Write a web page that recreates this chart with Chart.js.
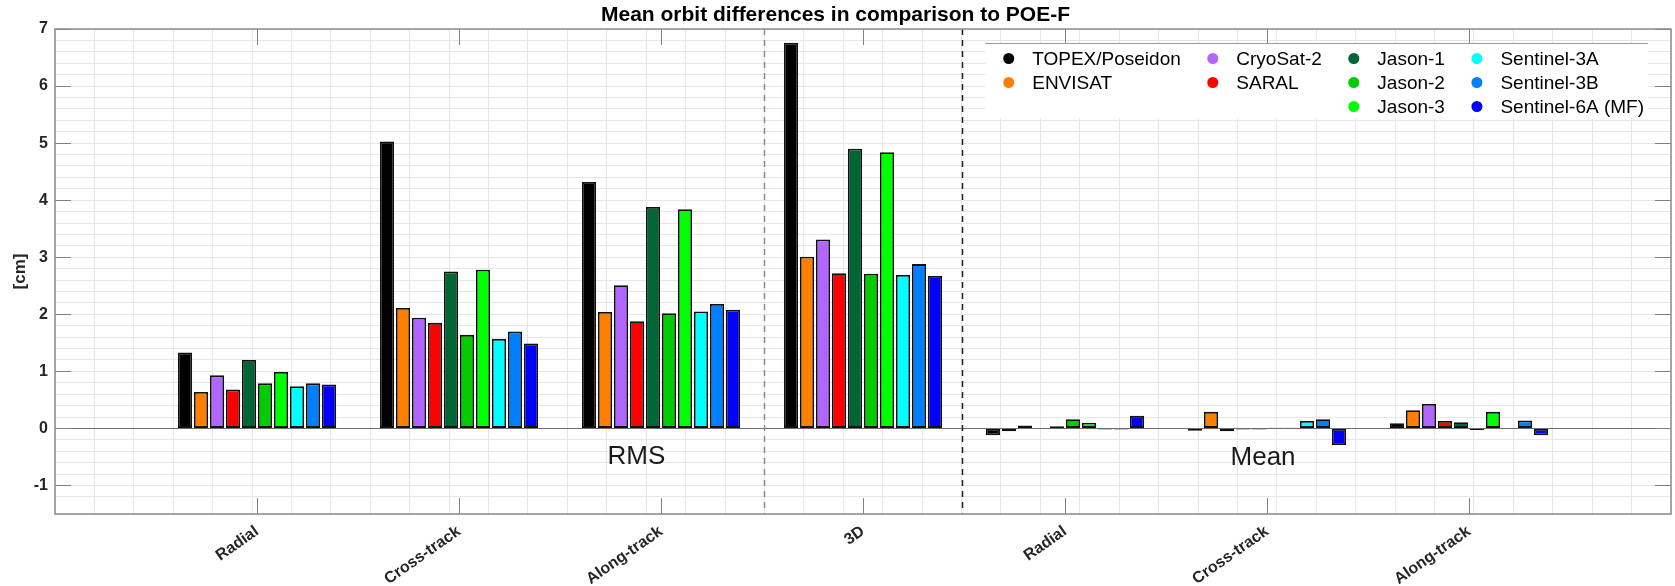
<!DOCTYPE html>
<html>
<head>
<meta charset="utf-8">
<script src="https://cdn.jsdelivr.net/npm/chart.js"></script>
<style>
  html, body { margin: 0; padding: 0; background: #fff; }
  #wrap { width: 1675px; height: 586px; position: relative; }
</style>
</head>
<body>
<div id="wrap"><canvas id="orbitChart"></canvas></div>
<script>
// categories: 4 RMS components, then 3 mean components
const categories = ['Radial', 'Cross-track', 'Along-track', '3D', 'Radial', 'Cross-track', 'Along-track'];

const missions = ['TOPEX/Poseidon', 'ENVISAT', 'CryoSat-2', 'SARAL', 'Jason-1', 'Jason-2', 'Jason-3',
  'Sentinel-3A', 'Sentinel-3B', 'Sentinel-6A (MF)'];
const missionColors = ['#000000', '#ff8000', '#b066ff', '#ff0000', '#006633', '#00cc00', '#00ff00',
  '#00ffff', '#0080ff', '#0000ff'];

// values in cm
const topex      = [1.33, 5.03, 4.32, 6.76, -0.12, -0.04,  0.09];
const envisat    = [0.64, 2.11, 2.04, 3.01, -0.05,  0.29,  0.32];
const cryosat2   = [0.93, 1.94, 2.51, 3.31,  0.05, -0.05,  0.43];
const saral      = [0.68, 1.85, 1.88, 2.72, -0.01, -0.02,  0.13];
const jason1     = [1.20, 2.75, 3.88, 4.90,  0.04, -0.02,  0.11];
const jason2     = [0.79, 1.64, 2.02, 2.71,  0.16,  0.01, -0.03];
const jason3     = [0.99, 2.78, 3.84, 4.84,  0.10,  0.01,  0.29];
const sentinel3a = [0.74, 1.57, 2.05, 2.69, -0.02,  0.13, -0.01];
const sentinel3b = [0.79, 1.70, 2.18, 2.88, -0.02,  0.16,  0.14];
const sentinel6a = [0.77, 1.49, 2.08, 2.67,  0.22, -0.29, -0.12];
const seriesValues = [topex, envisat, cryosat2, saral, jason1, jason2, jason3, sentinel3a, sentinel3b, sentinel6a];

const yTickLabels = [-1, 0, 1, 2, 3, 4, 5, 6, 7];

// legend is laid out column by column like the matlab one
const legendColumns = [[0, 1], [2, 3], [4, 5, 6], [7, 8, 9]];

const FONT = '"Liberation Sans", Arial, Helvetica, sans-serif';
Chart.defaults.font.family = FONT;

const isWhole = v => Math.abs(v - Math.round(v)) < 1e-6;

const extras = {
  id: 'extras',
  beforeDatasetsDraw(chart) {
    const {ctx, chartArea: a, scales} = chart;
    // separators between RMS / 3D / Mean blocks
    const seps = [{at: 3.5, color: '#8a8a8a'}, {at: 4.5, color: '#222222'}];
    ctx.save();
    ctx.lineWidth = 1.5;
    ctx.setLineDash([6, 5]);
    seps.forEach(s => {
      const px = Math.round(scales.xg.getPixelForValue(s.at)) + 0.5;
      ctx.strokeStyle = s.color;
      ctx.beginPath();
      ctx.moveTo(px, a.top);
      ctx.lineTo(px, a.bottom);
      ctx.stroke();
    });
    ctx.restore();
  },
  afterDatasetsDraw(chart) {
    const {ctx, chartArea: a, scales} = chart;
    ctx.save();
    // inward tick marks on all four sides
    ctx.strokeStyle = '#808080';
    ctx.lineWidth = 1;
    const tl = 16;
    for (let i = 1; i <= categories.length; i++) {
      const px = Math.round(scales.x.getPixelForValue(i)) + 0.5;
      ctx.beginPath();
      ctx.moveTo(px, a.bottom); ctx.lineTo(px, a.bottom - tl);
      ctx.moveTo(px, a.top); ctx.lineTo(px, a.top + tl);
      ctx.stroke();
    }
    yTickLabels.forEach(v => {
      const py = Math.round(scales.y.getPixelForValue(v)) + 0.5;
      ctx.beginPath();
      ctx.moveTo(a.left, py); ctx.lineTo(a.left + tl, py);
      ctx.moveTo(a.right, py); ctx.lineTo(a.right - tl, py);
      ctx.stroke();
    });
    // frame
    ctx.strokeStyle = '#8c8c8c';
    ctx.lineWidth = 1.5;
    ctx.strokeRect(a.left, a.top, a.right - a.left, a.bottom - a.top);

    // block labels
    ctx.fillStyle = '#1a1a1a';
    ctx.font = '26px ' + FONT;
    ctx.textAlign = 'center';
    ctx.textBaseline = 'middle';
    ctx.fillText('RMS', scales.xg.getPixelForValue(2.85), scales.y.getPixelForValue(-0.5));
    ctx.fillText('Mean', scales.xg.getPixelForValue(6.03), scales.y.getPixelForValue(-0.52));
    ctx.restore();
  },
  afterDraw(chart) {
    const {ctx, chartArea: a} = chart;
    ctx.save();
    ctx.font = '19px ' + FONT;
    const boxRight = a.right - 23;
    const boxTop = a.top + 14;
    const rowGap = 24;
    // work out column positions from the text widths
    const colWidths = legendColumns.map(col => Math.max(...col.map(i => ctx.measureText(missions[i]).width)));
    const markerToText = 23.5, colGap = 32, leftPad = 23.5, rightPad = 4;
    let total = leftPad;
    colWidths.forEach((w, c) => { total += markerToText + w + (c < colWidths.length - 1 ? colGap : rightPad); });
    const boxLeft = boxRight - total;
    const boxBottom = boxTop + 15.5 + rowGap * 2 + 12;
    ctx.fillStyle = '#ffffff';
    ctx.fillRect(boxLeft, boxTop, boxRight - boxLeft, boxBottom - boxTop);
    ctx.strokeStyle = '#9a9a9a';
    ctx.lineWidth = 1;
    ctx.beginPath();
    ctx.moveTo(boxLeft, boxTop + 0.5);
    ctx.lineTo(boxRight, boxTop + 0.5);
    ctx.stroke();

    ctx.textAlign = 'left';
    ctx.textBaseline = 'middle';
    let mx = boxLeft + leftPad;
    legendColumns.forEach((col, c) => {
      col.forEach((i, r) => {
        const y = boxTop + 15.5 + r * rowGap;
        ctx.fillStyle = chart.data.datasets[i].backgroundColor;
        ctx.beginPath();
        ctx.arc(mx, y, 5.5, 0, Math.PI * 2);
        ctx.fill();
        ctx.fillStyle = '#000000';
        ctx.fillText(chart.data.datasets[i].label, mx + markerToText, y + 1);
      });
      mx += markerToText + colWidths[c] + colGap;
    });
    ctx.restore();
  }
};

const datasets = missions.map((name, i) => ({
  label: name,
  data: [null, ...seriesValues[i], null],
  backgroundColor: missionColors[i],
  borderColor: '#111111',
  borderWidth: 1.8,
  borderSkipped: false,
  categoryPercentage: 0.792,
  barPercentage: 0.89,
  xAxisID: 'x',
  yAxisID: 'y'
}));

new Chart(document.getElementById('orbitChart'), {
  type: 'bar',
  data: { labels: ['', ...categories, ''], datasets: datasets },
  options: {
    responsive: true,
    maintainAspectRatio: false,
    animation: false,
    layout: { padding: { left: 0, right: 4, top: 0, bottom: 0 } },
    plugins: {
      legend: { display: false },
      tooltip: { enabled: false },
      title: {
        display: true,
        text: 'Mean orbit differences in comparison to POE-F',
        color: '#000000',
        font: { size: 21, weight: 'bold' },
        padding: { top: 3, bottom: 0.8 }
      }
    },
    scales: {
      x: {
        type: 'category',
        offset: false,
        afterFit: s => { s.height = 72; s.paddingLeft = 0; s.paddingRight = 0; },
        grid: { display: false, drawTicks: false },
        border: { display: false },
        ticks: {
          autoSkip: false,
          minRotation: 35,
          maxRotation: 35,
          padding: 8,
          color: '#262626',
          font: { size: 16, weight: 'bold' }
        }
      },
      xg: {
        type: 'linear',
        position: 'bottom',
        min: 0,
        max: 8,
        afterFit: s => { s.height = 0; s.paddingLeft = 0; s.paddingRight = 0; },
        ticks: { display: false, stepSize: 0.2, maxTicksLimit: 100, autoSkip: false },
        grid: { color: '#e6e6e6', drawTicks: false },
        border: { display: false }
      },
      y: {
        min: -1.5,
        max: 7,
        afterFit: s => { s.width = 55; },
        ticks: {
          stepSize: 0.2,
          maxTicksLimit: 100,
          autoSkip: false,
          padding: 7,
          color: '#262626',
          font: { size: 16, weight: 'bold' },
          callback: v => isWhole(v) ? String(Math.round(v)) : ''
        },
        grid: {
          drawTicks: false,
          color: c => (c.tick && Math.abs(c.tick.value) < 1e-6) ? '#6e6e6e' : '#e6e6e6'
        },
        border: { display: false },
        title: {
          display: true,
          text: '[cm]',
          color: '#262626',
          font: { size: 17, weight: 'bold' },
          padding: { top: 10, bottom: 0 }
        }
      }
    }
  },
  plugins: [extras]
});
</script>
</body>
</html>
